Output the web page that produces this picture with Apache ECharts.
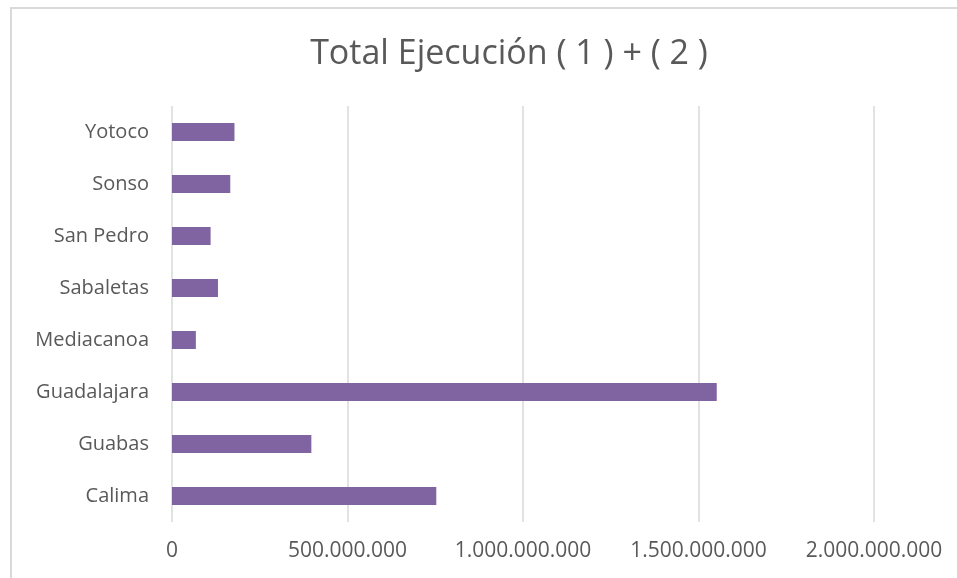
<!DOCTYPE html>
<html><head><meta charset="utf-8">
<script src="https://cdn.jsdelivr.net/npm/echarts@6/dist/echarts.min.js"></script>
<style>html,body{margin:0;padding:0;background:#fff;overflow:hidden}#c{width:957px;height:578px}
#frame{position:absolute;left:10px;top:7px;width:960px;height:590px;border:2px solid #d9d9d9;box-sizing:border-box;pointer-events:none}</style>
</head><body><div id="c"></div><div id="frame"></div>
<script>
const categories = ["Calima","Guabas","Guadalajara","Mediacanoa","Sabaletas","San Pedro","Sonso","Yotoco"];
const values = [753000000, 397000000, 1552000000, 68000000, 131000000, 110000000, 166000000, 178000000];
const xTicks = [0, 500000000, 1000000000, 1500000000, 2000000000];
const titleText = "Total Ejecución ( 1 ) + ( 2 )";
const FONT = "'Open Sans', sans-serif";
function fmt(v){ return String(Math.round(v)).replace(/\B(?=(\d{3})+(?!\d))/g, "."); }
const chart = echarts.init(document.getElementById('c'), null, {renderer:'canvas'});
chart.setOption({
  animation:false,
  title:{text:titleText, left:504, top:32, textAlign:'center',
    textStyle:{fontFamily:FONT, fontWeight:'normal', fontSize:34, color:'#595959'}},
  grid:{left:172, right:83, top:106, bottom:56, containLabel:false},
  xAxis:{type:'value', min:xTicks[0], max:xTicks[xTicks.length-1], interval:xTicks[1]-xTicks[0],
    axisLine:{show:false}, axisTick:{show:false},
    splitLine:{show:true, lineStyle:{color:'#d9d9d9', width:1.5}},
    axisLabel:{formatter:fmt, margin:19, color:'#595959', fontFamily:FONT, fontSize:21}},
  yAxis:{type:'category', data:categories,
    axisLine:{show:false}, axisTick:{show:false},
    axisLabel:{margin:23, color:'#595959', fontFamily:FONT, fontSize:20}},
  series:[{type:'bar', data:values, barWidth:18, itemStyle:{color:'#8064A2'}}]
});
</script></body></html>
